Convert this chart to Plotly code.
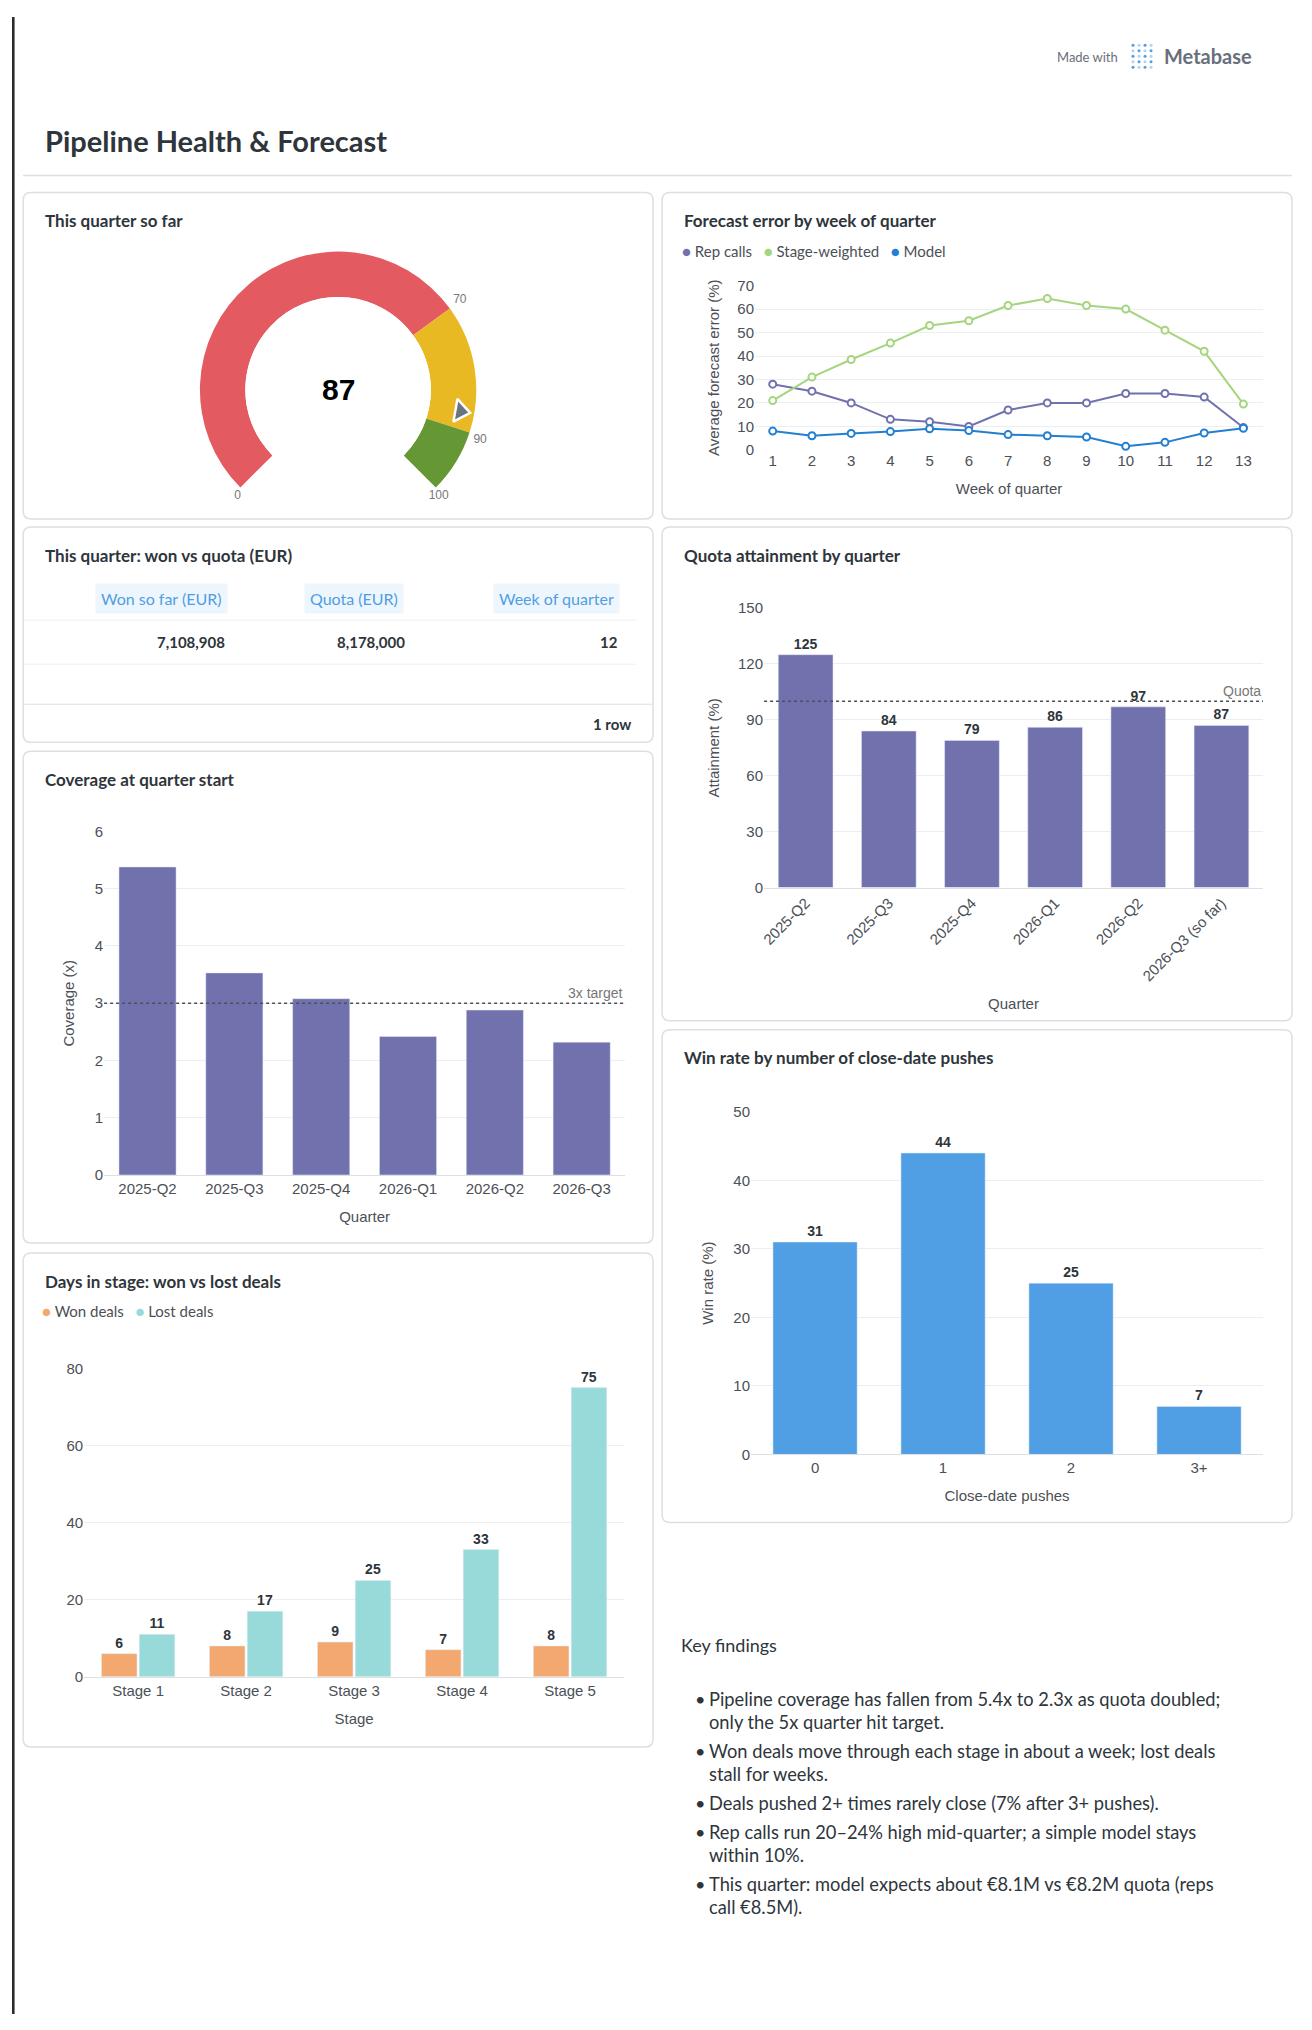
import plotly.graph_objects as go

W, H = 1312, 2030
PAD = 8  # browser body margin around the plot div

# ---- data ----
GAUGE_VALUE = 87
GAUGE_BANDS = [(0, 70, "#E35B61"), (70, 90, "#E8B923"), (90, 100, "#659735")]
GAUGE_TICKS = [0, 70, 90, 100]

WEEKS = list(range(1, 14))
REP_CALLS = [28, 25, 20, 13, 12, 10, 17, 20, 20, 24, 24, 22.5, 9.5]
STAGE_WEIGHTED = [21, 31, 38.5, 45.5, 53, 55, 61.5, 64.5, 61.5, 60, 51, 42, 19.5]
MODEL = [8, 6, 7, 7.8, 9, 8.2, 6.5, 6, 5.5, 1.5, 3.2, 7.2, 9.2]

TABLE_HEADERS = ["Won so far (EUR)", "Quota (EUR)", "Week of quarter"]
TABLE_ROW = ["7,108,908", "8,178,000", "12"]

QUARTERS_ATT = ["2025-Q2", "2025-Q3", "2025-Q4", "2026-Q1", "2026-Q2", "2026-Q3 (so far)"]
ATTAINMENT = [125, 84, 79, 86, 97, 87]
QUOTA_LINE = 100

QUARTERS_COV = ["2025-Q2", "2025-Q3", "2025-Q4", "2026-Q1", "2026-Q2", "2026-Q3"]
COVERAGE = [5.38, 3.53, 3.08, 2.42, 2.88, 2.32]
COVERAGE_TARGET = 3

PUSHES = ["0", "1", "2", "3+"]
WIN_RATE = [31, 44, 25, 7]

STAGES = ["Stage 1", "Stage 2", "Stage 3", "Stage 4", "Stage 5"]
WON_DAYS = [6, 8, 9, 7, 8]
LOST_DAYS = [11, 17, 25, 33, 75]

FINDINGS = [
    ["Pipeline coverage has fallen from 5.4x to 2.3x as quota doubled;", "only the 5x quarter hit target."],
    ["Won deals move through each stage in about a week; lost deals", "stall for weeks."],
    ["Deals pushed 2+ times rarely close (7% after 3+ pushes)."],
    ["Rep calls run 20\u201324% high mid-quarter; a simple model stays", "within 10%."],
    ["This quarter: model expects about \u20ac8.1M vs \u20ac8.2M quota (reps", "call \u20ac8.5M)."],
]

TXT = "#2e353b"
GREY = "#696e7b"
CHART_FONT = "Liberation Sans, Arial, sans-serif"
UI_FONT = "Lato, Noto Sans, sans-serif"
FW, FH = W - 2 * PAD, H - 2 * PAD


def px(x):
    x = (x - 3.9) / 0.997
    return (x - PAD) / FW


def py(y):
    y = (y - 8.9) / 0.990
    return 1 - (y - PAD) / FH


def dom_x(a, b):
    return [px(a), px(b)]


def dom_y(top, bottom):
    return [py(bottom), py(top)]


fig = go.Figure()
shapes = []
annotations = []


def note(x, y, text, size, color=TXT, family=UI_FONT, xanchor="left", **kw):
    annotations.append(dict(x=px(x), y=py(y), xref="paper", yref="paper", text=text, showarrow=False,
                            xanchor=xanchor, yanchor="middle", font=dict(family=family, size=size, color=color),
                            **kw))


def card(x0, y0, x1, y1, title):
    r = 8
    path = (f"M {px(x0 + r)} {py(y0)} L {px(x1 - r)} {py(y0)} Q {px(x1)} {py(y0)} {px(x1)} {py(y0 + r)} "
            f"L {px(x1)} {py(y1 - r)} Q {px(x1)} {py(y1)} {px(x1 - r)} {py(y1)} "
            f"L {px(x0 + r)} {py(y1)} Q {px(x0)} {py(y1)} {px(x0)} {py(y1 - r)} "
            f"L {px(x0)} {py(y0 + r)} Q {px(x0)} {py(y0)} {px(x0 + r)} {py(y0)} Z")
    shapes.append(dict(type="path", path=path, xref="paper", yref="paper",
                       line=dict(color="#dcdfe3", width=1.5), fillcolor="white", layer="below"))
    note(x0 + 20, y0 + 28, f"<b>{title}</b>", 17)


def legend_note(x, y, items):
    parts = [f'<span style="color:{c}">\u25cf</span> {n}' for n, c in items]
    note(x, y, "   ".join(parts), 15, color="#4c5056")


# page chrome
shapes.append(dict(type="rect", x0=0, x1=0.002, y0=0, y1=1, xref="paper", yref="paper",
                   fillcolor="#2b2b2b", line=dict(width=0)))
shapes.append(dict(type="line", x0=px(23), x1=px(1292), y0=py(175), y1=py(175), xref="paper", yref="paper",
                   line=dict(color="#dcdfe3", width=1.5)))
note(43, 140, "<b>Pipeline Health &amp; Forecast</b>", 29)
note(1120, 57, "Made with", 13, color=GREY, xanchor="right")
note(1162, 56, "<b>Metabase</b>", 20, color=GREY)
for i in range(4):
    for j in range(5):
        cx, cy = 1133 + i * 6, 45 + j * 5.5
        shapes.append(dict(type="circle", x0=px(cx - 1.5), x1=px(cx + 1.5), y0=py(cy + 1.5), y1=py(cy - 1.5),
                           xref="paper", yref="paper", fillcolor="#509EE3", line=dict(width=0),
                           opacity=1 if (i + j) % 2 == 0 else 0.45))

# cards
card(23, 192, 653, 518, "This quarter so far")
card(662, 192, 1292, 518, "Forecast error by week of quarter")
card(23, 526, 653, 741, "This quarter: won vs quota (EUR)")
card(662, 526, 1292, 1019, "Quota attainment by quarter")
card(23, 750, 653, 1241, "Coverage at quarter start")
card(662, 1028, 1292, 1520, "Win rate by number of close-date pushes")
card(23, 1251, 653, 1744, "Days in stage: won vs lost deals")

# ---- gauge ----
DEG = 2.7
for a, b, col in GAUGE_BANDS:
    fig.add_trace(go.Barpolar(r=[1], theta=[(a + b) / 2 * DEG], width=[(b - a) * DEG], base=0,
                              marker=dict(color=col, line=dict(width=0)), showlegend=False,
                              hoverinfo="skip", subplot="polar"))
fig.add_trace(go.Scatterpolar(r=[1.09] * len(GAUGE_TICKS), theta=[t * DEG for t in GAUGE_TICKS],
                              mode="text", text=[str(t) for t in GAUGE_TICKS],
                              textposition=["bottom center", "top right", "bottom right", "bottom center"],
                              textfont=dict(family=CHART_FONT, size=12, color="#777"),
                              showlegend=False, subplot="polar"))
fig.add_trace(go.Scatterpolar(r=[0.69], theta=[GAUGE_VALUE * DEG], mode="markers",
                              marker=dict(symbol="triangle-right", size=20, angle=10, color="#6b7280",
                                          line=dict(color="white", width=2.5)),
                              showlegend=False, subplot="polar"))
note(338, 389, f"<b>{GAUGE_VALUE}</b>", 30, color="black", family=CHART_FONT, xanchor="center")

# ---- forecast error ----
series = [("Rep calls", REP_CALLS, "#7172AD"), ("Stage-weighted", STAGE_WEIGHTED, "#A5D57E"),
          ("Model", MODEL, "#227FD2")]
for name, vals, col in series:
    fig.add_trace(go.Scatter(x=WEEKS, y=vals, mode="lines+markers", name=name, showlegend=False,
                             line=dict(color=col, width=2),
                             marker=dict(size=7, color="white", line=dict(color=col, width=2)),
                             xaxis="x", yaxis="y", cliponaxis=False))
legend_note(680, 250, [(n, c) for n, _, c in series])

# ---- table ----
hdr_x = [161, 354, 556]
val_right = [227, 407, 620]
for h, cx in zip(TABLE_HEADERS, hdr_x):
    note(cx, 597, h, 16, color="#509EE3", xanchor="center", bgcolor="#EEF6FD", borderpad=5)
for v, rx in zip(TABLE_ROW, val_right):
    note(rx, 641, f"<b>{v}</b>", 15, xanchor="right")
for yy in (619, 663):
    shapes.append(dict(type="line", x0=px(24), x1=px(636), y0=py(yy), y1=py(yy), xref="paper", yref="paper",
                       line=dict(color="#eceef0", width=1)))
shapes.append(dict(type="line", x0=px(24), x1=px(652), y0=py(703), y1=py(703), xref="paper", yref="paper",
                   line=dict(color="#dcdfe3", width=1.2)))
note(633, 723, "<b>1 row</b>", 15, xanchor="right")

# ---- bar charts ----
bar_text = dict(family=CHART_FONT, size=14, color=TXT)
fig.add_trace(go.Bar(x=QUARTERS_ATT, y=ATTAINMENT, marker_color="#7172AD", text=ATTAINMENT,
                     texttemplate="<b>%{text}</b>", textposition="outside", textfont=bar_text,
                     cliponaxis=False, showlegend=False, xaxis="x2", yaxis="y2"))
fig.add_trace(go.Bar(x=QUARTERS_COV, y=COVERAGE, marker_color="#7172AD", showlegend=False,
                     xaxis="x3", yaxis="y3"))
fig.add_trace(go.Bar(x=PUSHES, y=WIN_RATE, marker_color="#509EE3", text=WIN_RATE,
                     texttemplate="<b>%{text}</b>", textposition="outside", textfont=bar_text,
                     cliponaxis=False, showlegend=False, xaxis="x4", yaxis="y4"))
days = [("Won deals", WON_DAYS, "#F2A86F"), ("Lost deals", LOST_DAYS, "#98D9D9")]
for name, vals, col in days:
    fig.add_trace(go.Bar(x=STAGES, y=vals, name=name, marker_color=col, text=vals,
                         texttemplate="<b>%{text}</b>", textposition="outside", textfont=bar_text,
                         cliponaxis=False, showlegend=False, xaxis="x5", yaxis="y5"))
legend_note(40, 1309, [(n, c) for n, _, c in days])

# reference lines
for ax, ya, val, label in [("x2", "y2", QUOTA_LINE, "Quota"), ("x3", "y3", COVERAGE_TARGET, "3x target")]:
    shapes.append(dict(type="line", xref=f"{ax} domain", yref=ya, x0=0, x1=1, y0=val, y1=val,
                       line=dict(color="#4c5056", width=1.5, dash="dot")))
    annotations.append(dict(x=1, y=val, xref=f"{ax} domain", yref=ya, text=label, showarrow=False,
                            xanchor="right", yanchor="bottom",
                            font=dict(family=CHART_FONT, size=14, color="#777")))

# key findings
note(679, 1642, "Key findings", 18)
line_y = 1696
for item in FINDINGS:
    note(693, line_y, "\u2022", 18)
    for ln in item:
        note(707, line_y, ln, 18.3)
        line_y += 23.5
    line_y += 5

tick_font = dict(family=CHART_FONT, size=15, color="#4c5056")
title_font = dict(family=CHART_FONT, size=15, color="#4c5056")
grid = dict(showgrid=True, gridcolor="#eceef0", zeroline=False, tickfont=tick_font, ticks="")
xbase = dict(showgrid=False, zeroline=False, tickfont=tick_font, showline=True, linecolor="#dcdfe3",
             ticks="")

fig.update_layout(
    width=FW, height=FH, margin=dict(l=0, r=0, t=0, b=0),
    paper_bgcolor="white", plot_bgcolor="rgba(0,0,0,0)",
    font=dict(family=CHART_FONT), showlegend=False,
    shapes=shapes, annotations=annotations,
    bargap=0.3, bargroupgap=0.06,
    polar=dict(domain=dict(x=dom_x(193, 483), y=dom_y(244, 534)), hole=0.64, bgcolor="rgba(0,0,0,0)",
               radialaxis=dict(visible=False, range=[0, 1.15]),
               angularaxis=dict(visible=False, rotation=225, direction="clockwise")),
    xaxis=dict(domain=dom_x(755, 1263), range=[0.55, 13.5], tickvals=WEEKS, showgrid=False,
               zeroline=False, tickfont=tick_font, title=dict(text="Week of quarter", font=title_font),
               anchor="y"),
    yaxis=dict(domain=dom_y(285, 449), range=[0, 70], dtick=10, anchor="x",
               title=dict(text="Average forecast error (%)", font=title_font, standoff=14), **grid),
    xaxis2=dict(domain=dom_x(764, 1263), anchor="y2", tickangle=-45,
                title=dict(text="Quarter", font=title_font), **xbase),
    yaxis2=dict(domain=dom_y(607, 886), range=[0, 150], dtick=30, anchor="x2",
                title=dict(text="Attainment (%)", font=title_font, standoff=14), **grid),
    xaxis3=dict(domain=dom_x(104, 625), anchor="y3", title=dict(text="Quarter", font=title_font), **xbase),
    yaxis3=dict(domain=dom_y(830, 1173), range=[0, 6], dtick=1, anchor="x3",
                title=dict(text="Coverage (x)", font=title_font, standoff=16), **grid),
    xaxis4=dict(domain=dom_x(751, 1263), anchor="y4", title=dict(text="Close-date pushes", font=title_font),
                **xbase),
    yaxis4=dict(domain=dom_y(1110, 1452), range=[0, 50], dtick=10, anchor="x4",
                title=dict(text="Win rate (%)", font=title_font, standoff=16), **grid),
    xaxis5=dict(domain=dom_x(84, 624), anchor="y5", title=dict(text="Stage", font=title_font), **xbase),
    yaxis5=dict(domain=dom_y(1366, 1674), range=[0, 80], dtick=20, anchor="x5", **grid),
)

fig.write_html("out.html")
